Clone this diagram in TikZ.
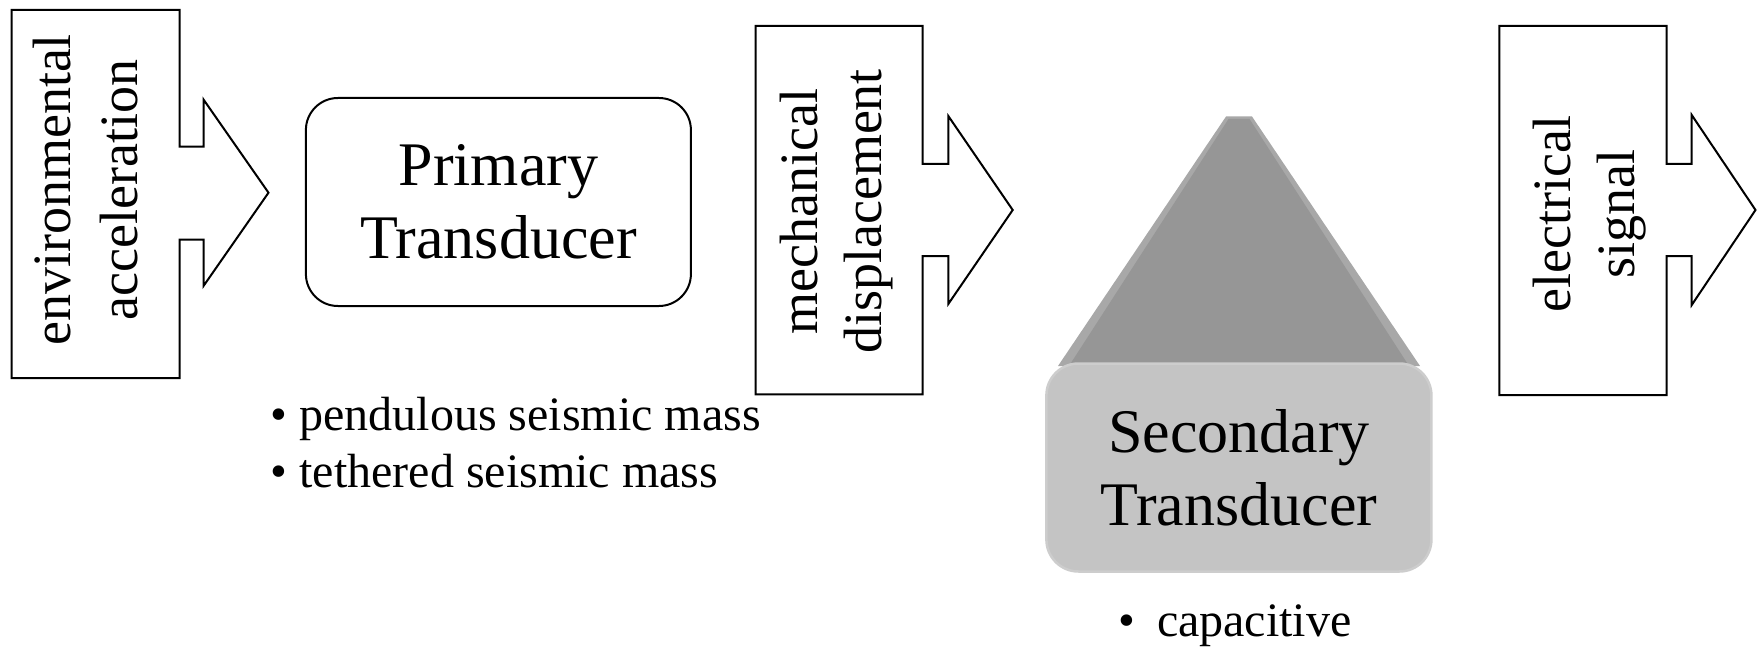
\documentclass[tikz,border=0pt]{standalone}
\usepackage{fontspec}
\setmainfont{Liberation Serif}
\definecolor{triedge}{HTML}{A8A8A8}
\definecolor{trifill}{HTML}{969696}
\definecolor{secfill}{HTML}{C4C4C4}
\definecolor{secedge}{HTML}{CDCDCD}
\begin{document}
\begin{tikzpicture}[x=1pt,y=-1pt,line join=miter,
  blockarrow/.style={draw=black, fill=white, line width=2pt},
  flowlabel/.style={rotate=90, align=center, inner sep=0pt, font=\fontsize{54}{64}\selectfont},
  transducer/.style={rounded corners=32pt, minimum width=385pt, minimum height=208pt, align=center, inner sep=0pt, font=\fontsize{62}{73}\selectfont},
  bullets/.style={align=left, inner sep=0pt, font=\fontsize{48}{57}\selectfont}]
\useasboundingbox (0,0) rectangle (1758,647);

% block arrows
\draw[blockarrow] (11.5,10) -- (179.5,10) -- (179.5,146.7) -- (203.5,146.7) -- (203.5,99.5) -- (268.5,192.7) -- (203.5,286) -- (203.5,239.5) -- (179.5,239.5) -- (179.5,378) -- (11.5,378) -- cycle;
\draw[blockarrow] (755.5,26) -- (922.7,26) -- (922.7,164) -- (948.3,164) -- (948.3,116) -- (1012.7,210) -- (948.3,304) -- (948.3,256) -- (922.7,256) -- (922.7,394.3) -- (755.5,394.3) -- cycle;
\draw[blockarrow] (1499.3,26) -- (1666.7,26) -- (1666.7,164) -- (1691.7,164) -- (1691.7,115) -- (1755.5,210) -- (1691.7,305) -- (1691.7,256) -- (1666.7,256) -- (1666.7,395) -- (1499.3,395) -- cycle;

\node[flowlabel, font=\fontsize{54}{67}\selectfont] (envacc) at (85.5,190) {environmental\\acceleration};
\node[flowlabel] (mechdisp) at (837,211.5) {mechanical\\displacement};
\node[flowlabel] (elsig) at (1590,214) {electrical\\signal};

% primary transducer
\node[transducer, draw=black, fill=white, line width=2pt] (primary) at (498.4,202) {Primary\\Transducer};
\node[bullets, anchor=north west] (primlist) at (270.5,397) {\textbullet\ pendulous seismic mass\\\textbullet\ tethered seismic mass};

% secondary transducer
\fill[triedge] (1226,116.5) -- (1252,116.5) -- (1420,366) -- (1058,366) -- cycle;
\fill[trifill] (1228.5,119) -- (1249.5,119) -- (1409,366) -- (1069,366) -- cycle;
\node[transducer, draw=secedge, fill=secfill, line width=2.5pt] (secondary) at (1238.9,467.5) {Secondary\\Transducer};
\node[bullets, anchor=base west] (seclist) at (1118,636.5) {\textbullet\hspace{22pt}capacitive};
\end{tikzpicture}
\end{document}
